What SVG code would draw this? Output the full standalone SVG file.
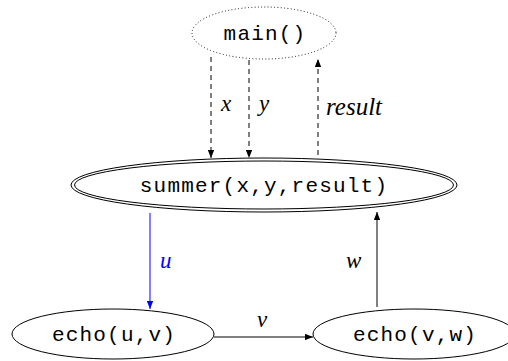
<svg xmlns="http://www.w3.org/2000/svg" width="508" height="361" viewBox="0 0 508 361">
<style>
.node{fill:none;stroke:#000;stroke-width:1}
.tt{font-family:"Liberation Mono","DejaVu Sans Mono",monospace;font-size:21px;letter-spacing:1.2px;text-anchor:middle;fill:#000}
.lbl{font-family:"Liberation Serif","DejaVu Serif",serif;font-style:italic;font-size:23px;fill:#000}
.edge{fill:none;stroke:#000;stroke-width:1}
.dash{stroke-dasharray:5 4}
</style>
<defs>
<marker id="ah" viewBox="0 0 10 8" refX="10" refY="4" markerWidth="8" markerHeight="6.4" markerUnits="userSpaceOnUse" orient="auto">
<path d="M0,0 L10,4 L0,8 z" fill="#000"/>
</marker>
<marker id="ahb" viewBox="0 0 10 8" refX="10" refY="4" markerWidth="8" markerHeight="6.4" markerUnits="userSpaceOnUse" orient="auto">
<path d="M0,0 L10,4 L0,8 z" fill="#00f"/>
</marker>
</defs>
<g id="main">
<ellipse cx="264" cy="33" rx="72" ry="26" class="node" stroke-dasharray="0.1 3.2" stroke-linecap="round" stroke-width="1.2"/>
<text x="265" y="40" class="tt">main()</text>
</g>
<g id="summer">
<ellipse cx="264" cy="185" rx="193" ry="27" class="node"/>
<ellipse cx="264" cy="185" rx="189.5" ry="24" class="node"/>
<text x="264" y="192" class="tt">summer(x,y,result)</text>
</g>
<g id="echo1">
<ellipse cx="113" cy="334" rx="101" ry="25" class="node"/>
<text x="114" y="341" class="tt">echo(u,v)</text>
</g>
<g id="echo2">
<ellipse cx="414" cy="334" rx="101" ry="25" class="node"/>
<text x="415" y="341" class="tt">echo(v,w)</text>
</g>
<g id="edges">
<line x1="211" y1="57" x2="211" y2="158" class="edge dash" marker-end="url(#ah)"/>
<text x="221" y="111" class="lbl">x</text>
<line x1="249" y1="60" x2="249" y2="158" class="edge dash" marker-end="url(#ah)"/>
<text x="259" y="111" class="lbl">y</text>
<line x1="318" y1="155" x2="318" y2="59" class="edge dash" marker-end="url(#ah)"/>
<text x="326" y="115" class="lbl" style="font-size:25px">result</text>
<line x1="150" y1="213" x2="150" y2="309" class="edge" stroke="#00f" style="stroke:#00f" marker-end="url(#ahb)"/>
<text x="160" y="268" class="lbl" style="fill:#00f">u</text>
<line x1="377" y1="307" x2="377" y2="212" class="edge" marker-end="url(#ah)"/>
<text x="346" y="268" class="lbl">w</text>
<line x1="214" y1="337" x2="313" y2="337" class="edge" marker-end="url(#ah)"/>
<text x="257" y="327" class="lbl">v</text>
</g>
</svg>
